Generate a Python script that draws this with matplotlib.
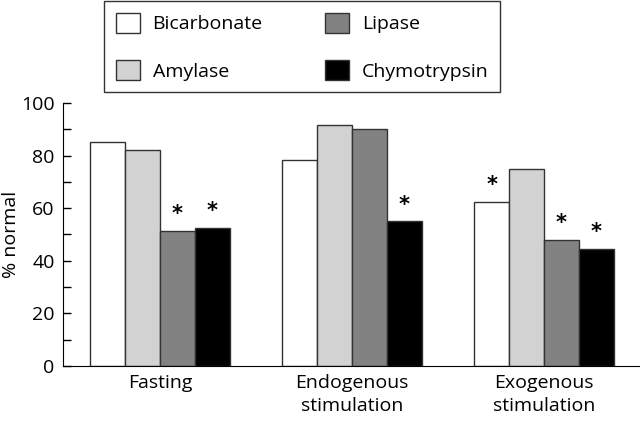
import numpy as np
import matplotlib.pyplot as plt
from matplotlib.ticker import MultipleLocator

groups = ["Fasting", "Endogenous\nstimulation", "Exogenous\nstimulation"]
series = ["Bicarbonate", "Amylase", "Lipase", "Chymotrypsin"]
bicarbonate = [85, 78.5, 62.5]
amylase = [82, 91.5, 75]
lipase = [51.5, 90, 48]
chymotrypsin = [52.5, 55, 44.5]
# significance markers (*) per series, per group
sig_bicarbonate = [False, False, True]
sig_amylase = [False, False, False]
sig_lipase = [True, False, True]
sig_chymotrypsin = [True, True, True]

valeurs = [bicarbonate, amylase, lipase, chymotrypsin]
sigs = [sig_bicarbonate, sig_amylase, sig_lipase, sig_chymotrypsin]
couleurs = ["white", "#d2d2d2", "#828282", "black"]

plt.rcParams['font.family'] = ['Open Sans', 'DejaVu Sans']
fs = 14

fig = plt.figure(figsize=(6.4, 4.22), dpi=100)
ax = fig.add_axes([63/640, 1 - 366/422, 1 - 63/640, (366 - 103)/422])

x = np.arange(len(groups))
w = 0.182
for i, (vals, c, s, nom) in enumerate(zip(valeurs, couleurs, sigs, series)):
    pos = x + (i - 1.5) * w
    ax.bar(pos, vals, width=w, color=c, edgecolor="#333333", linewidth=1.0, label=nom)
    for p, v, star in zip(pos, vals, s):
        if star:
            ax.annotate("*", (p, v), xytext=(0, 12), textcoords="offset points",
                        ha="center", va="center", fontsize=15, color="black",
                        family="DejaVu Sans", weight="bold")

ax.set_xlim(-0.505, 2.5)
ax.set_ylim(0, 100)
ax.yaxis.set_major_locator(MultipleLocator(20))
ax.yaxis.set_minor_locator(MultipleLocator(10))
ax.tick_params(axis="y", which="both", direction="in", length=6, width=1, labelsize=fs, pad=6)
ax.tick_params(axis="x", length=0, labelsize=fs, pad=6)
ax.set_xticks(x)
ax.set_xticklabels(groups, linespacing=1.3)
ax.set_ylabel("% normal", fontsize=fs)
ax.yaxis.set_label_coords(-0.074, 0.50)
ax.spines["top"].set_visible(False)
ax.spines["right"].set_visible(False)

leg = ax.legend(ncol=2, loc="upper left", bbox_to_anchor=(104/640, 1 - 1/422),
                bbox_transform=fig.transFigure, borderaxespad=0, fontsize=fs,
                handlelength=1.25, handleheight=1.25, handletextpad=0.65,
                columnspacing=3.2, labelspacing=1.35, borderpad=0.6,
                fancybox=False, framealpha=1)
leg.get_frame().set_edgecolor("#333333")
leg.get_frame().set_linewidth(1.0)

fig.savefig("out.png", dpi=100)
